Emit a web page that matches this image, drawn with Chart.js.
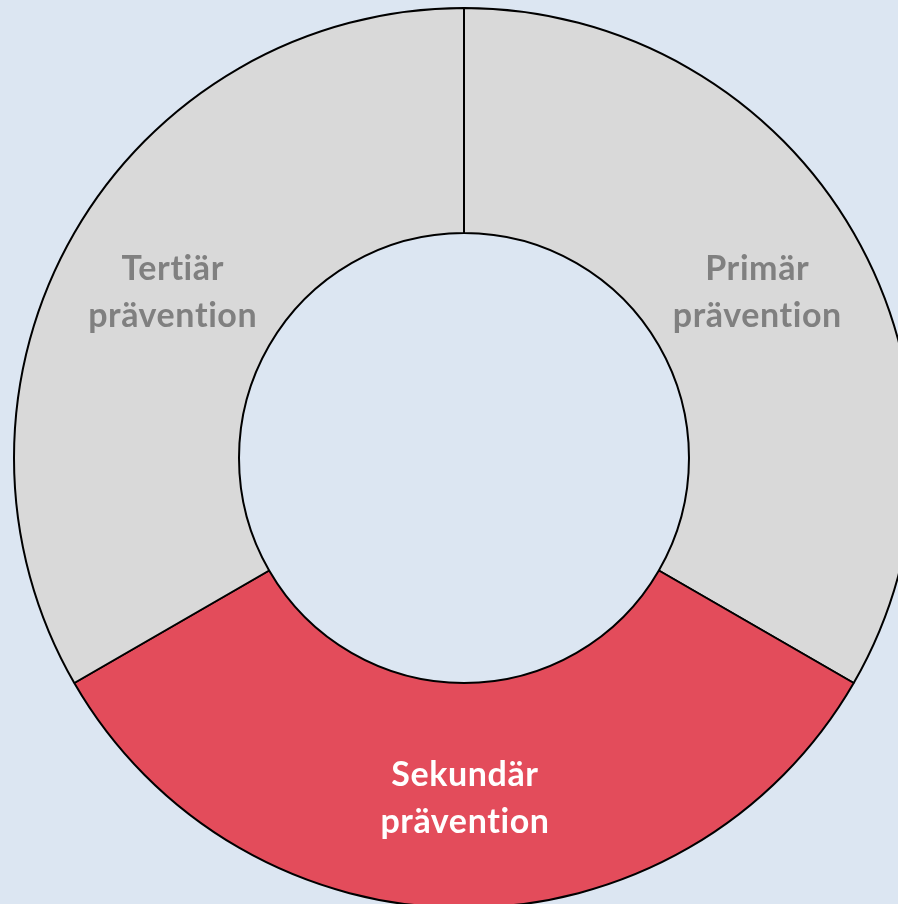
<!DOCTYPE html>
<html>
<head>
<meta charset="utf-8">
<script src="https://cdn.jsdelivr.net/npm/chart.js@4.4.1/dist/chart.umd.min.js"></script>
<style>
  html, body { margin: 0; padding: 0; width: 898px; height: 904px; overflow: hidden; background: #DCE6F2; }
  #wrap { position: absolute; left: 13px; top: 7px; width: 902px; height: 902px; }
</style>
</head>
<body>
<div id="wrap"><canvas id="c" width="902" height="902"></canvas></div>
<script>
const categories = ["Primär prävention", "Sekundär prävention", "Tertiär prävention"];
const labelLines = [["Primär", "prävention"], ["Sekundär", "prävention"], ["Tertiär", "prävention"]];
const values = [1, 1, 1];
const sliceColors = ["#D9D9D9", "#E34C5B", "#D9D9D9"];
const labelColors = ["#808080", "#FFFFFF", "#808080"];

const labelPlugin = {
  id: 'sliceLabels',
  afterDatasetsDraw(chart) {
    const ctx = chart.ctx;
    const meta = chart.getDatasetMeta(0);
    ctx.save();
    ctx.font = 'bold 34px Lato, "Open Sans", sans-serif';
    if ('letterSpacing' in ctx) ctx.letterSpacing = '0.6px';
    ctx.textAlign = 'center';
    ctx.textBaseline = 'middle';
    meta.data.forEach((arc, i) => {
      const p = arc.tooltipPosition();
      const lines = labelLines[i];
      const lh = 47;
      ctx.fillStyle = labelColors[i];
      lines.forEach((t, j) => {
        ctx.fillText(t, p.x + 1, p.y + (j - (lines.length - 1) / 2) * lh + 3);
      });
    });
    ctx.restore();
  }
};

new Chart(document.getElementById('c'), {
  type: 'doughnut',
  data: {
    labels: categories,
    datasets: [{
      data: values,
      backgroundColor: sliceColors,
      borderColor: '#000000',
      borderWidth: 2,
      borderAlign: 'center'
    }]
  },
  options: {
    responsive: false,
    animation: false,
    cutout: '50%',
    rotation: 0,
    layout: { padding: 0 },
    plugins: { legend: { display: false }, tooltip: { enabled: false } }
  },
  plugins: [labelPlugin]
});
</script>
</body>
</html>
